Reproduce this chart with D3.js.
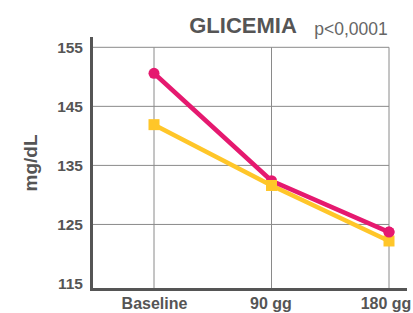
<!DOCTYPE html>
<html><head><meta charset="utf-8">
<script src="https://cdn.jsdelivr.net/npm/d3@7"></script>
<style>body{margin:0;background:#fff}svg{display:block}text{font-family:"Liberation Sans",Arial,sans-serif}</style>
</head><body><svg id="c" width="413" height="313"></svg>
<script>
const categories = ["Baseline", "90 gg", "180 gg"];
const seriesPink = [150.6, 132.4, 123.7];
const seriesYellow = [141.9, 131.6, 122.2];
const yTicks = [115, 125, 135, 145, 155];

const svg = d3.select("#c");
const x = d3.scalePoint().domain(categories).range([154, 389]);
const y = d3.scaleLinear().domain([114, 155]).range([289.4, 47.3]);

svg.append("g").selectAll("line").data(yTicks.filter(d => d > 115)).join("line")
  .attr("x1", 91).attr("x2", 389).attr("y1", d => y(d)).attr("y2", d => y(d))
  .attr("stroke", "#8a8a8a").attr("stroke-width", 1);
svg.append("g").selectAll("line").data(categories).join("line")
  .attr("x1", d => x(d)).attr("x2", d => x(d)).attr("y1", y(155)).attr("y2", y(114))
  .attr("stroke", "#8a8a8a").attr("stroke-width", 1);

svg.append("line").attr("x1", 91.5).attr("x2", 91.5).attr("y1", 37).attr("y2", 290.5)
  .attr("stroke", "#555").attr("stroke-width", 3);
svg.append("line").attr("x1", 90).attr("x2", 407).attr("y1", y(114)).attr("y2", y(114))
  .attr("stroke", "#555").attr("stroke-width", 3);

svg.append("g").selectAll("text").data(yTicks).join("text")
  .attr("x", 83).attr("y", d => y(d)).attr("dy", "0.36em").attr("text-anchor", "end")
  .attr("font-size", 15.5).attr("font-weight", "bold").attr("fill", "#555")
  .text(d => d);

const xLabelX = [154.5, 271, 386];
svg.append("g").selectAll("text").data(categories).join("text")
  .attr("x", (d, i) => xLabelX[i]).attr("y", 309).attr("text-anchor", "middle")
  .attr("font-size", 16).attr("font-weight", "bold").attr("fill", "#555")
  .text(d => d);

svg.append("text").attr("transform", "translate(37,163) rotate(-90)")
  .attr("text-anchor", "middle").attr("font-size", 19).attr("font-weight", "bold").attr("fill", "#555")
  .text("mg/dL");

svg.append("text").attr("x", 243).attr("y", 32.7).attr("text-anchor", "middle")
  .attr("font-size", 22).attr("font-weight", "bold").attr("fill", "#555").text("GLICEMIA");
svg.append("text").attr("x", 351).attr("y", 35).attr("text-anchor", "middle")
  .attr("font-size", 17.5).attr("fill", "#666").text("p<0,0001");

const line = d3.line().x((d, i) => x(categories[i])).y(d => y(d));
const pink = "#e5196f", yellow = "#ffc629";

svg.append("path").attr("d", line(seriesYellow)).attr("fill", "none").attr("stroke", yellow).attr("stroke-width", 4.5);
svg.append("path").attr("d", line(seriesPink)).attr("fill", "none").attr("stroke", pink).attr("stroke-width", 4.5);

svg.append("g").selectAll("circle").data(seriesPink).join("circle")
  .attr("cx", (d, i) => x(categories[i])).attr("cy", d => y(d)).attr("r", 5.5).attr("fill", pink);
svg.append("g").selectAll("rect").data(seriesYellow).join("rect")
  .attr("x", (d, i) => x(categories[i]) - 5.5).attr("y", d => y(d) - 5.5)
  .attr("width", 11).attr("height", 11).attr("fill", yellow);
svg.append("circle").datum(seriesPink[2])
  .attr("cx", x(categories[2])).attr("cy", d => y(d)).attr("r", 5.5).attr("fill", pink);
</script></body></html>
